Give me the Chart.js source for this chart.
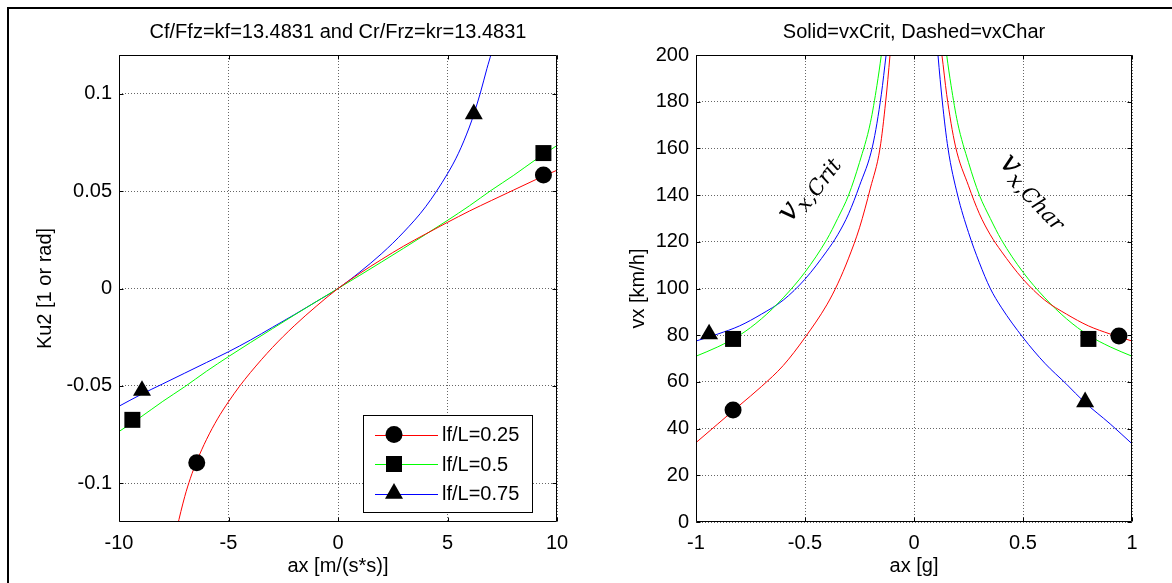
<!DOCTYPE html>
<html>
<head>
<meta charset="utf-8">
<title>Ku2 and vx vs ax</title>
<script src="https://cdn.jsdelivr.net/npm/chart.js@4.4.1/dist/chart.umd.min.js"></script>
<style>
  html, body { margin: 0; padding: 0; background: #fff; }
  body { position: relative; width: 1172px; height: 583px; overflow: hidden; }
  #frame { position: absolute; left: 7px; top: 7px; right: -10px; bottom: -10px; border-top: 2px solid #000; border-left: 2px solid #000; }
  .panel { position: absolute; top: 0; width: 586px; height: 583px; }
</style>
</head>
<body>
<div id="frame"></div>
<div class="panel" style="left:0"><canvas id="kuChart"></canvas></div>
<div class="panel" style="left:586px"><canvas id="vxChart"></canvas></div>
<script>
const FONT_FAMILY = "'Liberation Sans', Arial, Helvetica, sans-serif";
const SERIF = "'DejaVu Serif', 'Liberation Serif', serif";
const FONT_SIZE = 20;
const RED = "#ff0000";
const GREEN = "#00ff00";
const BLUE = "#0000ff";

// ---- left panel: Ku2 vs ax ----
const kuTitle = "Cf/Ffz=kf=13.4831 and Cr/Frz=kr=13.4831";
const kuXTitle = "ax [m/(s*s)]";
const kuYTitle = "Ku2 [1 or rad]";
const kuXTicks = [-10, -5, 0, 5, 10];
const kuXTickLabels = ["-10", "-5", "0", "5", "10"];
const kuYTicks = [-0.1, -0.05, 0, 0.05, 0.1];
const kuYTickLabels = ["-0.1", "-0.05", "0", "0.05", "0.1"];
const legendLabels = ["lf/L=0.25", "lf/L=0.5", "lf/L=0.75"];

// lf/L = 0.25
const axRed = [-7.5, -7.35, -7.0, -6.74, -6.45, -6.0, -5.5, -5.0, -4.5, -4.0, -3.0, -2.0, -1.0, 0, 1, 2, 3, 4, 5, 6, 7, 8, 9, 10];
const kuRed = [-0.131, -0.123, -0.107, -0.0975, -0.0888, -0.0775, -0.067, -0.0582, -0.0503, -0.0432, -0.0304, -0.0192, -0.0092, 0, 0.0078, 0.015, 0.0218, 0.028, 0.034, 0.0398, 0.0452, 0.0505, 0.0558, 0.0608];
// lf/L = 0.5
const axGreen = [-10, -9, -8, -7, -6, -5, -4, -3, -2, -1, 0, 1, 2, 3, 4, 5, 6, 7, 8, 9, 10];
const kuGreen = [-0.0735, -0.066, -0.058, -0.0505, -0.0425, -0.035, -0.0278, -0.0207, -0.0137, -0.0068, 0, 0.0068, 0.0137, 0.0207, 0.0278, 0.035, 0.0425, 0.0505, 0.058, 0.066, 0.0735];
// lf/L = 0.75
const axBlue = [-10, -9, -8, -7, -6, -5, -4, -3, -2, -1, 0, 1, 2, 3, 4, 5, 5.5, 6, 6.2, 6.5, 6.8, 7.0, 7.1];
const kuBlue = [-0.0605, -0.0545, -0.049, -0.0435, -0.038, -0.0325, -0.0265, -0.020, -0.0135, -0.0068, 0, 0.0085, 0.018, 0.029, 0.042, 0.059, 0.0695, 0.083, 0.0895, 0.1005, 0.113, 0.121, 0.126];

const kuCircleAx = [-6.45, 9.38];
const kuCircleVal = [-0.0896, 0.0583];
const kuSquareAx = [-9.39, 9.38];
const kuSquareVal = [-0.0675, 0.0696];
const kuTriangleAx = [-8.95, 6.2];
const kuTriangleVal = [-0.0525, 0.0897];

// ---- right panel: vx vs ax ----
const vxTitle = "Solid=vxCrit, Dashed=vxChar";
const vxXTitle = "ax [g]";
const vxYTitle = "vx [km/h]";
const vxXTicks = [-1, -0.5, 0, 0.5, 1];
const vxXTickLabels = ["-1", "-0.5", "0", "0.5", "1"];
const vxYTicks = [0, 20, 40, 60, 80, 100, 120, 140, 160, 180, 200];
const vxYTickLabels = ["0", "20", "40", "60", "80", "100", "120", "140", "160", "180", "200"];

// vxCrit (ax < 0)
const critAxRed = [-1, -0.9, -0.83, -0.8, -0.7, -0.6, -0.5, -0.4, -0.35, -0.3, -0.25, -0.2, -0.156, -0.13, -0.11, -0.1];
const critVxRed = [34, 42, 47.6, 50, 58, 67, 79, 93, 102, 113, 126, 143, 160, 180, 200, 212];
const critAxGreen = [-1, -0.9, -0.8, -0.7, -0.6, -0.5, -0.4, -0.35, -0.3, -0.25, -0.2, -0.17, -0.15, -0.14];
const critVxGreen = [71, 75, 80, 87, 96, 107, 121, 130, 140, 154, 171, 187, 200, 208];
const critAxBlue = [-1, -0.9, -0.8, -0.7, -0.6, -0.5, -0.4, -0.35, -0.3, -0.25, -0.19, -0.15, -0.128, -0.12];
const critVxBlue = [77.5, 80.5, 84, 89, 95, 104, 116, 123, 132, 144, 161, 183, 200, 206];

// vxChar (ax > 0)
const charAxRed = [0.12, 0.128, 0.15, 0.19, 0.25, 0.3, 0.35, 0.4, 0.5, 0.6, 0.7, 0.8, 0.9, 1.0];
const charVxRed = [205, 200, 183, 161, 144, 132, 123, 116, 104, 95, 89, 84, 80.5, 77.5];
const charAxGreen = [0.14, 0.15, 0.17, 0.2, 0.25, 0.3, 0.35, 0.4, 0.5, 0.6, 0.7, 0.8, 0.9, 1.0];
const charVxGreen = [208, 200, 187, 171, 154, 140, 130, 121, 107, 96, 87, 80, 75, 71];
const charAxBlue = [0.1, 0.11, 0.13, 0.156, 0.2, 0.25, 0.3, 0.35, 0.4, 0.5, 0.6, 0.7, 0.78, 0.9, 1.0];
const charVxBlue = [212, 200, 180, 160, 140, 124, 111, 100, 92, 79, 68, 59, 51.5, 42, 33.5];

const vxCircleAx = [-0.83, 0.94];
const vxCircleVal = [48, 79.7];
const vxSquareAx = [-0.83, 0.8];
const vxSquareVal = [78.4, 78.4];
const vxTriangleAx = [-0.94, 0.785];
const vxTriangleVal = [80.5, 51.4];

// rotated labels inside the right panel
const noteSubs = ["x,Crit", "x,Char"];
const noteAx = [-0.475, 0.54];
const noteVx = [142, 141];
const noteAngle = [-53, 46];

const MARKERS = [
  { style: "circle", radius: 8.5 },
  { style: "rect", radius: 11.3 },
  { style: "triangle", radius: 10.4 }
];

function xy(xs, ys) {
  return xs.map((x, i) => ({ x, y: ys[i] }));
}

function lineSet(xs, ys, color) {
  return {
    type: "line",
    data: xy(xs, ys),
    borderColor: color,
    borderWidth: 1,
    pointRadius: 0,
    fill: false,
    cubicInterpolationMode: "monotone",
    clip: 0,
    order: 1
  };
}

function markerSet(xs, ys, marker) {
  return {
    type: "scatter",
    data: xy(xs, ys),
    pointStyle: marker.style,
    pointRadius: marker.radius,
    pointBackgroundColor: "#000",
    pointBorderColor: "#000",
    pointBorderWidth: 0,
    clip: false,
    order: 0
  };
}

function font() {
  return { family: FONT_FAMILY, size: FONT_SIZE };
}

function axis(cfg) {
  return {
    type: "linear",
    min: cfg.min,
    max: cfg.max,
    afterBuildTicks: (s) => { s.ticks = cfg.ticks.map((v) => ({ value: v })); },
    afterFit: (s) => {
      if (cfg.width) s.width = cfg.width;
      if (cfg.height) s.height = cfg.height;
    },
    grid: { color: "rgba(0,0,0,0.6)", lineWidth: 1, drawTicks: false },
    border: { display: false, dash: [1, 2] },
    ticks: {
      color: "#000",
      font: font(),
      padding: cfg.tickPad,
      autoSkip: false,
      maxRotation: 0,
      callback: (v, i) => cfg.labels[i]
    },
    title: {
      display: true,
      text: cfg.title,
      color: "#000",
      font: font(),
      padding: cfg.titlePad
    }
  };
}

// axes box with inward tick marks, like the original plot
const frameTicks = {
  id: "frameTicks",
  afterDatasetsDraw(chart) {
    const { ctx, chartArea: a, scales: { x, y } } = chart;
    const L = a.left + 0.5, R = a.right - 0.5, T = a.top + 0.5, B = a.bottom - 0.5;
    const len = 4;
    ctx.save();
    ctx.strokeStyle = "#000";
    ctx.lineWidth = 1;
    ctx.beginPath();
    ctx.rect(L, T, R - L, B - T);
    x.ticks.forEach((t) => {
      const px = Math.round(x.getPixelForValue(t.value)) + 0.5;
      ctx.moveTo(px, B); ctx.lineTo(px, B - len);
      ctx.moveTo(px, T); ctx.lineTo(px, T + len);
    });
    y.ticks.forEach((t) => {
      const py = Math.round(y.getPixelForValue(t.value)) + 0.5;
      ctx.moveTo(L, py); ctx.lineTo(L + len, py);
      ctx.moveTo(R, py); ctx.lineTo(R - len, py);
    });
    ctx.stroke();
    ctx.restore();
  }
};

const plotTitle = {
  id: "plotTitle",
  afterDraw(chart, args, opts) {
    const { ctx, chartArea: a } = chart;
    ctx.save();
    ctx.fillStyle = "#000";
    ctx.font = `${FONT_SIZE}px ${FONT_FAMILY}`;
    ctx.textAlign = "center";
    ctx.textBaseline = "middle";
    ctx.fillText(opts.text, (a.left + a.right) / 2, a.top - 23);
    ctx.restore();
  }
};

function drawMarker(ctx, style, x, y) {
  ctx.beginPath();
  if (style === "circle") {
    ctx.arc(x, y, 8.5, 0, Math.PI * 2);
  } else if (style === "rect") {
    ctx.rect(x - 8, y - 8, 16, 16);
  } else {
    const r = 10.4;
    ctx.moveTo(x, y - r);
    ctx.lineTo(x + r * 0.866, y + r / 2);
    ctx.lineTo(x - r * 0.866, y + r / 2);
    ctx.closePath();
  }
  ctx.fill();
}

const boxLegend = {
  id: "boxLegend",
  afterDraw(chart) {
    const { ctx, chartArea: a } = chart;
    const left = a.right - 194, right = a.right - 24;
    const top = a.bottom - 107, bottom = a.bottom - 9;
    const colors = [RED, GREEN, BLUE];
    const rowY = [19.5, 49, 78.5];
    ctx.save();
    ctx.fillStyle = "#fff";
    ctx.fillRect(left, top, right - left, bottom - top);
    ctx.strokeStyle = "#000";
    ctx.lineWidth = 1;
    ctx.strokeRect(left + 0.5, top + 0.5, right - left - 1, bottom - top - 1);
    legendLabels.forEach((label, i) => {
      const yy = top + rowY[i];
      ctx.strokeStyle = colors[i];
      ctx.beginPath();
      ctx.moveTo(left + 12, Math.round(yy) + 0.5);
      ctx.lineTo(left + 75, Math.round(yy) + 0.5);
      ctx.stroke();
      ctx.fillStyle = "#000";
      drawMarker(ctx, MARKERS[i].style, left + 31, yy);
      ctx.font = `${FONT_SIZE}px ${FONT_FAMILY}`;
      ctx.textAlign = "left";
      ctx.textBaseline = "middle";
      ctx.fillText(label, left + 79, yy + 1);
    });
    ctx.restore();
  }
};

const mathNotes = {
  id: "mathNotes",
  afterDatasetsDraw(chart) {
    const { ctx, scales: { x, y } } = chart;
    noteSubs.forEach((sub, i) => {
      const px = x.getPixelForValue(noteAx[i]);
      const py = y.getPixelForValue(noteVx[i]);
      ctx.save();
      ctx.translate(px, py);
      ctx.rotate(noteAngle[i] * Math.PI / 180);
      ctx.fillStyle = "#000";
      ctx.textBaseline = "alphabetic";
      ctx.textAlign = "left";
      ctx.font = `italic 30px ${SERIF}`;
      const wMain = ctx.measureText("v").width;
      ctx.font = `italic 21px ${SERIF}`;
      const wSub = ctx.measureText(sub).width;
      const start = -(wMain + wSub) / 2;
      ctx.font = `italic 30px ${SERIF}`;
      ctx.fillText("v", start, 4);
      ctx.font = `italic 21px ${SERIF}`;
      ctx.fillText(sub, start + wMain + 1, 10);
      ctx.restore();
    });
  }
};

const baseOptions = {
  responsive: true,
  maintainAspectRatio: false,
  animation: false,
  devicePixelRatio: 1,
  plugins: { legend: { display: false }, tooltip: { enabled: false }, title: { display: false } }
};

new Chart(document.getElementById("kuChart"), {
  type: "line",
  data: {
    datasets: [
      markerSet(kuCircleAx, kuCircleVal, MARKERS[0]),
      markerSet(kuSquareAx, kuSquareVal, MARKERS[1]),
      markerSet(kuTriangleAx, kuTriangleVal, MARKERS[2]),
      lineSet(axRed, kuRed, RED),
      lineSet(axGreen, kuGreen, GREEN),
      lineSet(axBlue, kuBlue, BLUE)
    ]
  },
  options: {
    ...baseOptions,
    layout: { padding: { left: 20, right: 29, top: 55, bottom: 0 } },
    plugins: { ...baseOptions.plugins, plotTitle: { text: kuTitle } },
    scales: {
      x: axis({ min: -10, max: 10, ticks: kuXTicks, labels: kuXTickLabels, title: kuXTitle, height: 61, tickPad: 9, titlePad: { top: 0, bottom: 5 } }),
      y: axis({ min: -0.12, max: 0.12, ticks: kuYTicks, labels: kuYTickLabels, title: kuYTitle, width: 99, tickPad: 7, titlePad: { top: 13, bottom: 0 } })
    }
  },
  plugins: [frameTicks, plotTitle, boxLegend]
});

new Chart(document.getElementById("vxChart"), {
  type: "line",
  data: {
    datasets: [
      markerSet(vxCircleAx, vxCircleVal, MARKERS[0]),
      markerSet(vxSquareAx, vxSquareVal, MARKERS[1]),
      markerSet(vxTriangleAx, vxTriangleVal, MARKERS[2]),
      lineSet(critAxRed, critVxRed, RED),
      lineSet(critAxGreen, critVxGreen, GREEN),
      lineSet(critAxBlue, critVxBlue, BLUE),
      lineSet(charAxRed, charVxRed, RED),
      lineSet(charAxGreen, charVxGreen, GREEN),
      lineSet(charAxBlue, charVxBlue, BLUE)
    ]
  },
  options: {
    ...baseOptions,
    layout: { padding: { left: 27, right: 40, top: 55, bottom: 0 } },
    plugins: { ...baseOptions.plugins, plotTitle: { text: vxTitle } },
    scales: {
      x: axis({ min: -1, max: 1, ticks: vxXTicks, labels: vxXTickLabels, title: vxXTitle, height: 61, tickPad: 9, titlePad: { top: 0, bottom: 5 } }),
      y: axis({ min: 0, max: 200, ticks: vxYTicks, labels: vxYTickLabels, title: vxYTitle, width: 83, tickPad: 7, titlePad: { top: 13, bottom: 0 } })
    }
  },
  plugins: [frameTicks, mathNotes, plotTitle]
});
</script>
</body>
</html>
